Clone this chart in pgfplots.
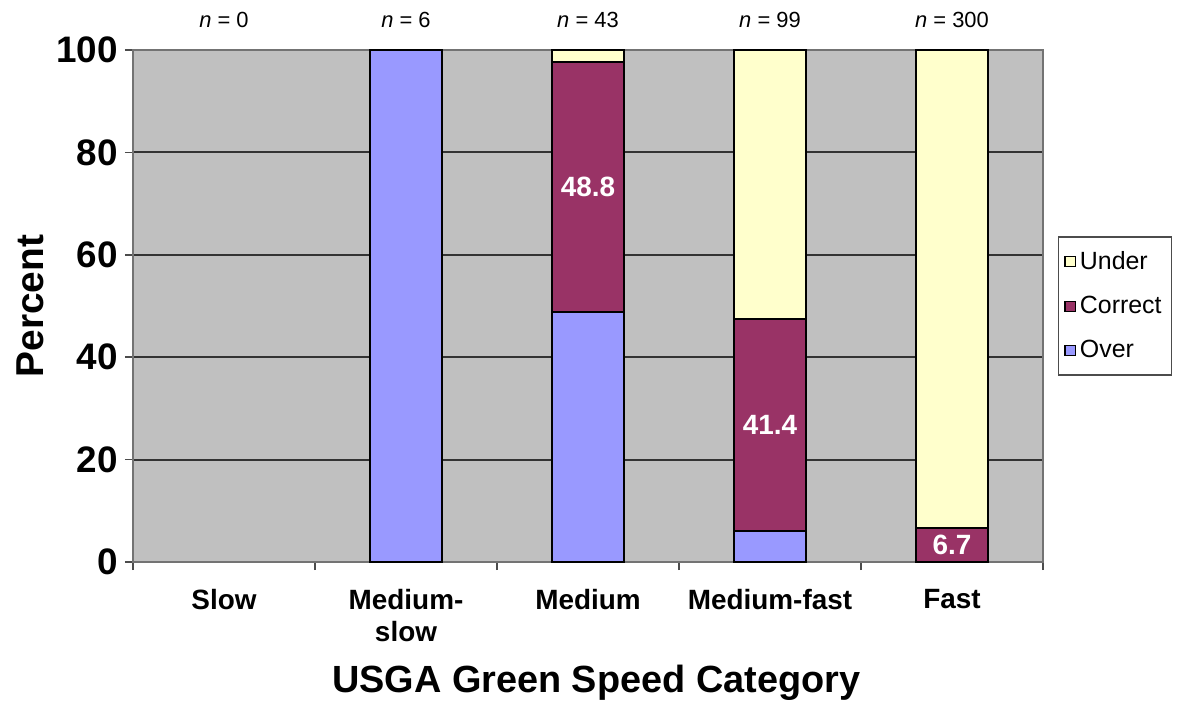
\documentclass[border=0pt]{standalone}
\usepackage{pgfplots}
\pgfplotsset{compat=1.18}
\usepackage{pgfplotstable}
\usepackage{fontspec}
\setmainfont{Liberation Sans}

\definecolor{overc}{HTML}{9999FF}
\definecolor{corrc}{HTML}{993366}
\definecolor{underc}{HTML}{FFFFCC}
\definecolor{bgc}{HTML}{C0C0C0}

% shares per speed category (percent)
\pgfplotstableread{
x over correct under
0 0    0    0
1 100  0    0
2 48.8 48.8 2.4
3 6.1  41.4 52.5
4 0    6.7  93.3
}\speed

\pgfplotsset{sq/.style={legend image code/.code={\draw[##1,line width=0.6bp] (0bp,-2.6bp) rectangle (5.2bp,2.6bp);}}}

\begin{document}
\begin{tikzpicture}
\begin{axis}[
  scale only axis, width=455bp, height=256bp,
  ybar stacked, bar width=36bp,
  xmin=-0.5, xmax=4.5, ymin=0, ymax=100,
  clip=false,
  xtick={-0.5,0.5,1.5,2.5,3.5,4.5},
  x tick label as interval,
  xticklabels={Slow, Medium-\\slow, Medium, Medium-fast, Fast},
  ytick={0,20,...,100},
  xtick pos=bottom, ytick pos=left,
  tick align=outside,
  major tick length=4bp,
  tick style={black!70, line width=0.8bp},
  ymajorgrids, grid style={black!80, line width=0.9bp},
  axis background/.style={fill=bgc},
  axis line style={black!55, line width=0.9bp},
  /pgf/number format/assume math mode=true,
  yticklabel style={font=\fontsize{18.5}{18}\selectfont\bfseries},
  xticklabel style={font=\fontsize{14}{16}\selectfont\bfseries, align=center, anchor=north, yshift=-6bp},
  ylabel={Percent},
  ylabel style={at={(axis description cs:-0.113,0.5)}, anchor=center, font=\fontsize{19.5}{20}\selectfont\bfseries},
  xlabel={USGA Green Speed Category},
  xlabel style={at={(axis description cs:0.509,-0.236)}, anchor=center, font=\fontsize{19}{20}\selectfont\bfseries},
  legend style={at={(axis description cs:1.016,0.5)}, anchor=west, draw=black!70, line width=0.8bp,
    font=\fontsize{12.5}{12}\selectfont, inner xsep=3bp, inner ysep=5bp, row sep=8bp},
  legend cell align=left,
  reverse legend,
]
\addplot[fill=overc, draw=black, line width=0.9bp, sq] table[x=x, y=over] {\speed};
\addplot[fill=corrc, draw=black, line width=0.9bp, sq] table[x=x, y=correct] {\speed};
\addplot[fill=underc, draw=black, line width=0.9bp, sq] table[x=x, y=under] {\speed};
\legend{Over, Correct, Under}

\coordinate (lm) at (axis cs:2,73.2);
\coordinate (lmf) at (axis cs:3,26.8);
\coordinate (lf) at (axis cs:4,3.35);

\node[font=\fontsize{11}{11}\selectfont, yshift=15bp] at (axis cs:0,100) {\textit{n} = 0};
\node[font=\fontsize{11}{11}\selectfont, yshift=15bp] at (axis cs:1,100) {\textit{n} = 6};
\node[font=\fontsize{11}{11}\selectfont, yshift=15bp] at (axis cs:2,100) {\textit{n} = 43};
\node[font=\fontsize{11}{11}\selectfont, yshift=15bp] at (axis cs:3,100) {\textit{n} = 99};
\node[font=\fontsize{11}{11}\selectfont, yshift=15bp] at (axis cs:4,100) {\textit{n} = 300};
\end{axis}
\begin{scope}[every node/.style={font=\fontsize{14}{14}\selectfont\bfseries, text=white}]
\node at (lm) {48.8};
\node at (lmf) {41.4};
\node at (lf) {6.7};
\end{scope}
\pgfresetboundingbox
\path (-66.5bp,-71bp) rectangle (524.5bp,281bp);
\end{tikzpicture}
\end{document}
